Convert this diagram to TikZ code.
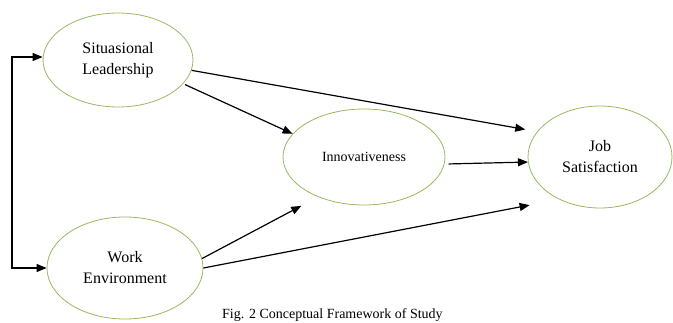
\documentclass[tikz,border=0pt]{standalone}
\usepackage{fontspec}
\setmainfont{Liberation Serif}
\usetikzlibrary{arrows.meta,shapes.geometric}
\definecolor{ellgreen}{RGB}{150,185,95}
\tikzset{
  var/.style={ellipse, draw=ellgreen, line width=0.8pt, inner sep=0pt, align=center,
    font=\fontsize{16}{21}\selectfont},
  arr/.style={draw=black, line width=1.2pt, -{Triangle[length=10pt,width=8pt]}},
}
\begin{document}
\begin{tikzpicture}[x=1pt,y=-1pt]
\useasboundingbox (0,0) rectangle (673,322);
\clip (0,0) rectangle (673,322);
\node[var, minimum width=150pt, minimum height=94pt] (sl) at (118,60) {Situasional\\Leadership};
\node[var, minimum width=156pt, minimum height=102pt] (we) at (125,268) {Work\\Environment};
\node[var, minimum width=162pt, minimum height=96pt, font=\fontsize{14}{18}\selectfont] (in) at (364,157) {Innovativeness};
\node[var, minimum width=144pt, minimum height=102pt] (js) at (600,157) {Job\\Satisfaction};
\coordinate (bk) at (12,160);
\draw[arr] (bk) |- ([yshift=3pt]sl.west);
\draw[arr] (bk) |- (we.west);
\draw[arr, shorten <=2pt] (sl.-20) -- (in.162);
\draw[arr, shorten >=12pt] (sl.-8) -- (js.158);
\draw[arr, shorten <=4pt] (in.-5) -- (js.184);
\draw[arr, shorten >=19pt] (we.7) -- (in.221);
\draw[arr, shorten >=30pt] (we.east) -- (js.226);
\node[anchor=base west, inner sep=0pt, font=\fontsize{14}{17}\selectfont] (cap) at (222,318) {Fig. 2 Conceptual Framework of Study};
\end{tikzpicture}
\end{document}
